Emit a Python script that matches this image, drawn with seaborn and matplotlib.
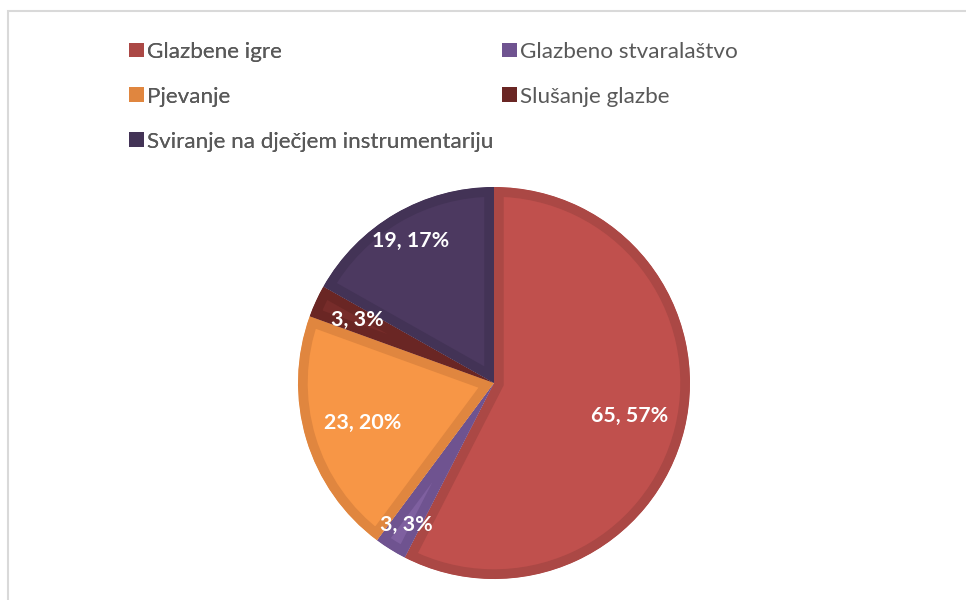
import matplotlib
matplotlib.use('Agg')
import matplotlib.pyplot as plt
from matplotlib.patches import Rectangle
import numpy as np
import seaborn as sns

# data
categories = ['Glazbene igre', 'Glazbeno stvaralaštvo', 'Pjevanje',
              'Slušanje glazbe', 'Sviranje na dječjem instrumentariju']
counts = [65, 3, 23, 3, 19]
percent_labels = ['57%', '3%', '20%', '3%', '17%']
colors = ['#C0504D', '#7F60A0', '#F79646', '#772C2A', '#4C3960']
edge_colors = ['#AB4845', '#6F5390', '#E0863F', '#6A2624', '#433356']
label_dist = [0.71, 0.85, 0.70, 0.77, 0.84]


def main():
    sns.set_theme(style='white')
    plt.rcParams['font.family'] = ['Lato', 'DejaVu Sans']

    fig = plt.figure(figsize=(9.66, 6), dpi=100)
    W, H = 966, 600
    cx, cy, r = 494, 383, 196
    lim = 1.02
    half = r * lim
    ax = fig.add_axes([(cx - half) / W, (H - cy - half) / H, 2 * half / W, 2 * half / H])

    wedges, _ = ax.pie(counts, colors=colors, startangle=90, counterclock=False,
                       radius=1, wedgeprops=dict(linewidth=0))
    # darker inner border on each slice (stroke clipped to the slice)
    for w, ec in zip(wedges, edge_colors):
        w.set_edgecolor(ec)
        w.set_linewidth(14)
        w.set_clip_path(w)
        w.set_clip_on(True)

    for w, n, p, d in zip(wedges, counts, percent_labels, label_dist):
        mid = np.deg2rad((w.theta1 + w.theta2) / 2)
        ax.text(d * np.cos(mid), d * np.sin(mid), f'{n}, {p}', color='white',
                fontsize=15.4, fontweight='bold', ha='center', va='center')

    ax.set_xlim(-lim, lim)
    ax.set_ylim(-lim, lim)
    ax.set_aspect('equal')
    ax.axis('off')

    # legend, two columns filled row by row like the original
    handles = [Rectangle((0, 0), 1, 1, facecolor=c, edgecolor='none') for c in edge_colors]
    leg_kw = dict(loc='upper left', frameon=False, fontsize=16.2, handlelength=0.68,
                  handleheight=0.63, handletextpad=0.14, labelspacing=1.1,
                  borderpad=0, borderaxespad=0, labelcolor='#595959')
    col1 = [0, 2, 4]
    col2 = [1, 3]
    leg1 = fig.legend([handles[i] for i in col1], [categories[i] for i in col1],
                      bbox_to_anchor=(129 / W, 1 - 42 / H), **leg_kw)
    fig.legend([handles[i] for i in col2], [categories[i] for i in col2],
               bbox_to_anchor=(502 / W, 1 - 42 / H), **leg_kw)
    fig.add_artist(leg1)

    # outer chart frame
    fig.patches.append(Rectangle((8 / W, -0.1), 1.2, 1.1 - 11 / H, transform=fig.transFigure,
                                 fill=False, edgecolor='#D9D9D9', linewidth=1.5))

    fig.savefig('out.png', dpi=100, facecolor='white')


if __name__ == '__main__':
    main()
